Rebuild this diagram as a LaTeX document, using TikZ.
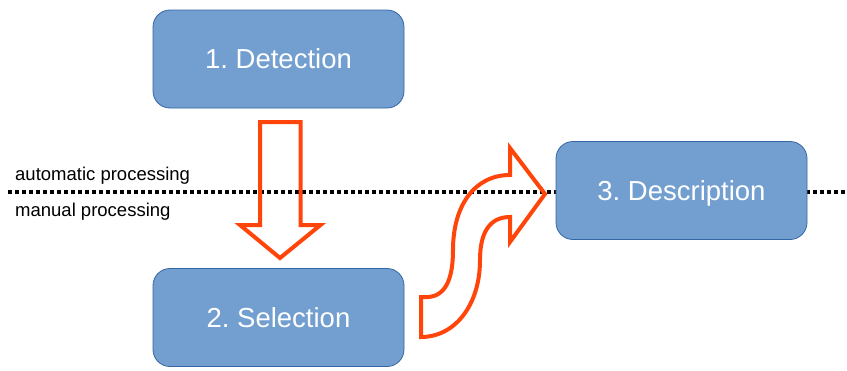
\documentclass[tikz,border=0pt]{standalone}
\usepackage{fontspec}
\setmainfont{Liberation Sans}
\frenchspacing
\definecolor{boxfill}{HTML}{729FCF}
\definecolor{boxline}{HTML}{3465A4}
\definecolor{arrowred}{RGB}{255,69,10}
\tikzset{
  stagebox/.style={draw=boxline, line width=0.8pt, fill=boxfill, rounded corners=17pt,
    minimum width=251pt, minimum height=98pt, inner sep=0pt, outer sep=0pt,
    text=white, font=\fontsize{27.5}{30}\selectfont, text depth=0pt},
  sidelabel/.style={anchor=base west, inner sep=0pt, font=\fontsize{18.5}{21}\selectfont},
  bigarrow/.style={draw=arrowred, line width=4pt, line join=miter},
  divider/.style={line width=3.5pt, dash pattern=on 4pt off 3pt}
}
\begin{document}
\begin{tikzpicture}[x=1pt,y=-1pt]
\useasboundingbox (0,0) rectangle (847,370);
% divider line
\coordinate (lineL) at (8,192);
\coordinate (lineR) at (847,192);
\draw[divider] (lineL) -- (lineR);
% labels
\node[sidelabel] (auto) at (15,180) {automatic processing};
\node[sidelabel] (manual) at (15,216) {manual processing};
% boxes
\node[stagebox] (det) at (278.5,59) {1. Detection};
\node[stagebox] (sel) at (278.5,317.5) {2. Selection};
\node[stagebox] (desc) at (681.5,190.5) {3. Description};
% down arrow
\draw[bigarrow] (260,122) -- (300.5,122) -- (300.5,225) -- (320.5,225) -- (280,258)
  -- (240,225) -- (260,225) -- cycle;
% curved arrow
\draw[bigarrow] (421,297) -- (428,297)
  .. controls (445,296) and (453,280) .. (453,250)
  .. controls (453,205) and (475,175) .. (510,175)
  -- (510,148) -- (545,194) -- (510,242) -- (510,217)
  .. controls (490,217) and (480,232) .. (480,260)
  .. controls (480,305) and (455,337) .. (421,337) -- cycle;
\end{tikzpicture}
\end{document}
